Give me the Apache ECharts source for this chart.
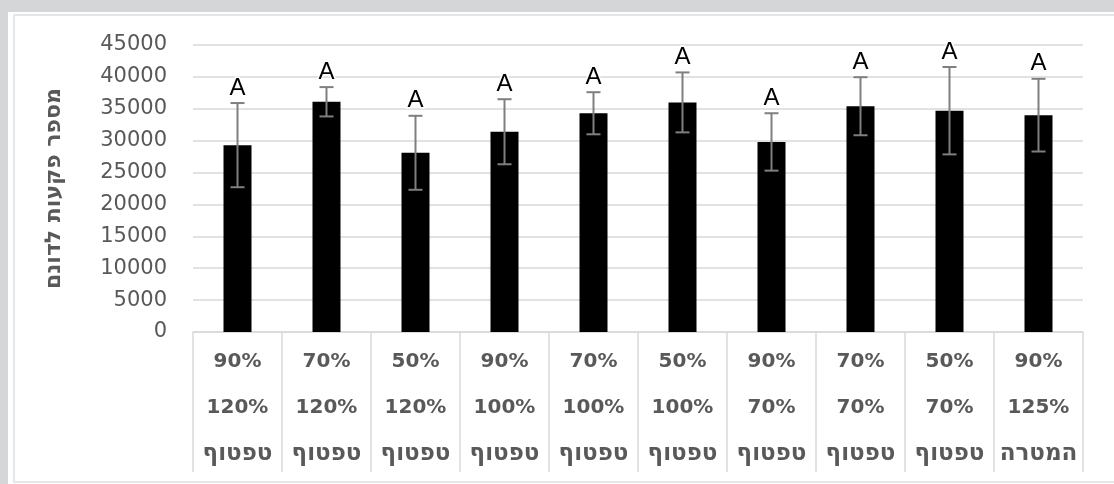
<!DOCTYPE html>
<html>
<head>
<meta charset="utf-8">
<script src="https://cdn.jsdelivr.net/npm/echarts@6/dist/echarts.min.js"></script>
<style>
  html, body { margin: 0; padding: 0; width: 1114px; height: 484px; overflow: hidden; background: #d5d6d8; }
  #panel { position: absolute; left: 8px; top: 12px; right: 0; bottom: 0; background: #ffffff; }
  #frame { position: absolute; left: 13px; top: 14px; right: -2px; bottom: 1px; border: 2px solid #e6e6e6; }
  #chart { position: absolute; left: 0; top: 0; width: 1114px; height: 484px; }
</style>
</head>
<body>
<div id="panel"></div>
<div id="frame"></div>
<div id="chart"></div>
<script>
// Treatment labels, three rows per column
const rowTop = ['90%', '70%', '50%', '90%', '70%', '50%', '90%', '70%', '50%', '90%'];
const rowMid = ['120%', '120%', '120%', '100%', '100%', '100%', '70%', '70%', '70%', '125%'];
const rowBottom = ['טפטוף', 'טפטוף', 'טפטוף', 'טפטוף', 'טפטוף', 'טפטוף', 'טפטוף', 'טפטוף', 'טפטוף', 'המטרה'];

// Mean tuber count per dunam and its error half-width
const means = [29300, 36100, 28100, 31400, 34300, 36000, 29800, 35400, 34700, 34000];
const errors = [6600, 2300, 5800, 5100, 3300, 4700, 4500, 4550, 6850, 5700];
const letters = ['A', 'A', 'A', 'A', 'A', 'A', 'A', 'A', 'A', 'A'];

const yTicks = { min: 0, max: 45000, interval: 5000 };
const yTitle = 'מספר פקעות לדונם';

const categories = rowTop.map((_, i) => i);
const font = "'DejaVu Sans', 'Open Sans', sans-serif";

const chart = echarts.init(document.getElementById('chart'), null, { renderer: 'canvas' });

chart.setOption({
  backgroundColor: 'transparent',
  animation: false,
  grid: { left: 193, right: 31, top: 45, bottom: 152 },
  xAxis: {
    type: 'category',
    data: categories,
    boundaryGap: true,
    axisLine: { show: true, lineStyle: { color: '#d9d9d9', width: 1.5 } },
    axisTick: { show: true, interval: 0, length: 140, lineStyle: { color: '#d9d9d9', width: 1.5 } },
    axisLabel: {
      interval: 0,
      margin: 7,
      color: '#595959',
      fontFamily: font,
      fontWeight: 'bold',
      fontSize: 20,
      lineHeight: 46,
      formatter: (v, i) => '{pct|' + rowTop[i] + '}\n{pct|' + rowMid[i] + '}\n{heb|' + rowBottom[i] + '}',
      rich: {
        pct: { color: '#595959', fontFamily: font, fontWeight: 'bold', fontSize: 20, lineHeight: 46 },
        heb: { color: '#595959', fontFamily: font, fontWeight: 'bold', fontSize: 23, lineHeight: 46 }
      }
    }
  },
  yAxis: {
    type: 'value',
    min: yTicks.min,
    max: yTicks.max,
    interval: yTicks.interval,
    name: yTitle,
    nameLocation: 'middle',
    nameRotate: 90,
    nameGap: 128,
    nameTextStyle: { color: '#595959', fontFamily: font, fontWeight: 'bold', fontSize: 22 },
    axisLine: { show: false },
    axisTick: { show: false },
    axisLabel: { color: '#595959', fontFamily: font, fontSize: 21, margin: 26, formatter: v => String(v) },
    splitLine: { lineStyle: { color: '#d9d9d9', width: 1.5 } }
  },
  series: [
    {
      type: 'bar',
      data: means,
      barWidth: 28,
      itemStyle: { color: '#000000' },
      z: 2
    },
    {
      type: 'custom',
      z: 3,
      data: means.map((m, i) => [i, m - errors[i], m + errors[i]]),
      renderItem: (params, api) => {
        const i = api.value(0);
        const lo = api.coord([i, api.value(1)]);
        const hi = api.coord([i, api.value(2)]);
        const cap = 7;
        const style = { stroke: '#7f7f7f', lineWidth: 2 };
        return {
          type: 'group',
          children: [
            { type: 'line', shape: { x1: hi[0], y1: hi[1], x2: lo[0], y2: lo[1] }, style },
            { type: 'line', shape: { x1: hi[0] - cap, y1: hi[1], x2: hi[0] + cap, y2: hi[1] }, style },
            { type: 'line', shape: { x1: lo[0] - cap, y1: lo[1], x2: lo[0] + cap, y2: lo[1] }, style },
            {
              type: 'text',
              x: hi[0],
              y: hi[1] - 3,
              style: {
                text: letters[i],
                fill: '#000000',
                font: "24px 'Liberation Sans', Arial, sans-serif",
                align: 'center',
                verticalAlign: 'bottom',
                stroke: '#ffffff',
                lineWidth: 3
              }
            }
          ]
        };
      }
    }
  ]
});
</script>
</body>
</html>
